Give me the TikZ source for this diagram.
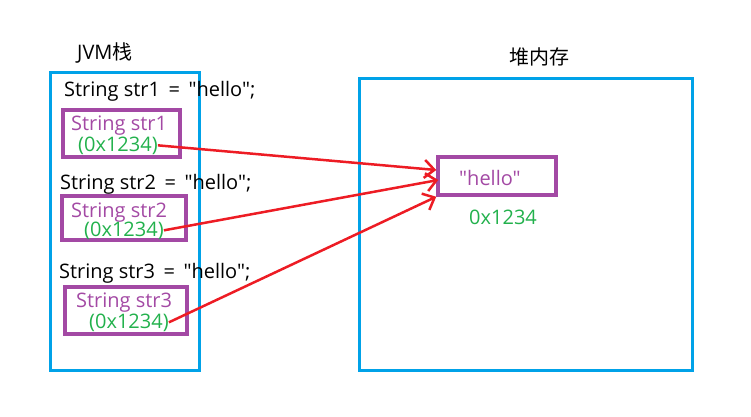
\documentclass[tikz,border=0pt]{standalone}
\usepackage{fontspec}
\setmainfont{Open Sans}[Ligatures=TeXOff]
\newfontfamily\cjk{Noto Sans CJK SC}
\usepackage{xcolor}
\usetikzlibrary{positioning,arrows.meta}
\definecolor{paintblue}{HTML}{00A2E8}
\definecolor{paintpurple}{HTML}{A349A4}
\definecolor{paintgreen}{HTML}{22B14C}
\definecolor{paintred}{HTML}{ED1C24}

\begin{document}
\begin{tikzpicture}[x=1pt, y=-1pt, font=\fontsize{20}{24}\selectfont,
  area/.style={draw=paintblue, line width=3pt, inner sep=0pt},
  slot/.style={draw=paintpurple, line width=3.5pt, inner sep=0pt},
  decl/.style={anchor=base west, inner sep=0pt},
  vname/.style={anchor=base west, inner sep=0pt, text=paintpurple},
  addr/.style={anchor=base west, inner sep=0pt, text=paintgreen},
  ref/.style={draw=paintred, line width=2.5pt, -{Straight Barb[length=10pt,width=18pt]}}]
\useasboundingbox (0,0) rectangle (751,416);

\node[area, minimum width=149pt, minimum height=298pt] (jvm) at (124.5,221) {};
\node[area, minimum width=333pt, minimum height=292pt] (heap) at (525.5,224) {};
\node[decl] (jvmlabel) at (77,59) {JVM{\cjk 栈}};
\node[inner sep=0pt] (heaplabel) at (539,57) {\cjk 堆内存};

\node[decl] (d1) at (64,96) {String str1 \,=\, "hello";};
\node[decl] (d2) at (60,189) {String str2 \,=\, "hello";};
\node[decl] (d3) at (59,278) {String str3 \,=\, "hello";};

\node[slot, minimum width=117pt, minimum height=47pt] (s1) at (121.5,133.5) {};
\node[slot, minimum width=124pt, minimum height=44pt] (s2) at (124,218) {};
\node[slot, minimum width=122pt, minimum height=47pt] (s3) at (126,310.5) {};
\node[vname] (n1) at (71,130) {String str1};
\node[addr] (a1) at (78,151) {(0x1234)};
\node[vname] (n2) at (71,217) {String str2};
\node[addr] (a2) at (84,236) {(0x1234)};
\node[vname] (n3) at (76,307) {String str3};
\node[addr] (a3) at (89,328) {(0x1234)};

\node[slot, minimum width=118pt, minimum height=38pt] (hello) at (497,176) {};
\node[vname] (hellotext) at (459,185) {"hello"};
\node[addr] (haddr) at (469,224) {0x1234};

\draw[ref] (a1.east) -- ([yshift=6pt]hello.west);
\draw[ref] (a2.east) -- ([xshift=2pt,yshift=-4pt]hello.west);
\draw[ref] (a3.east) -- (hello.south west);
\end{tikzpicture}
\end{document}
